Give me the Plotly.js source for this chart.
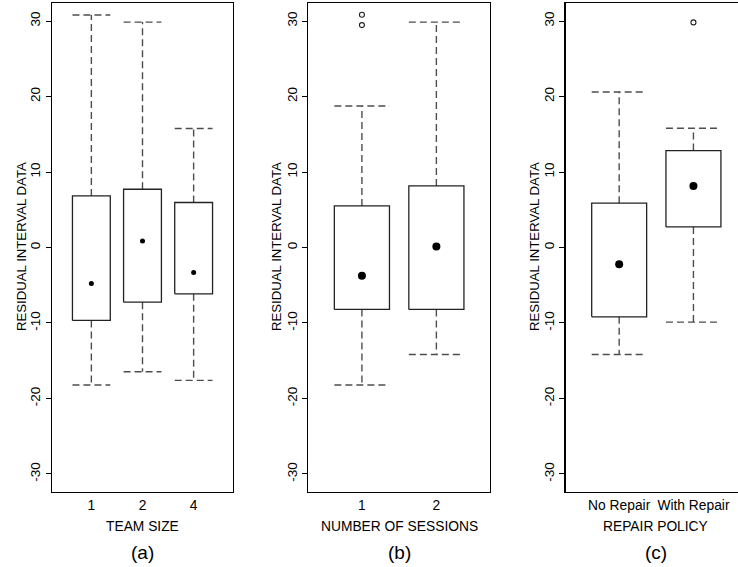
<!DOCTYPE html>
<html>
<head>
<meta charset="utf-8">
<script src="https://cdn.plot.ly/plotly-3.0.1.min.js"></script>
<style>
  html, body { margin: 0; padding: 0; background: #fff; }
  #chart { width: 738px; height: 567px; }
</style>
</head>
<body>
<div id="chart"></div>
<script>
// Residual interval data, summarised per factor level (box-and-whisker statistics)

// (a) Team size
const teamLabels = ['1', '2', '4'];
const teamQ1     = [-9.67, -7.24, -6.14];
const teamMedian = [-4.77, 0.87, -3.31];
const teamQ3     = [6.83, 7.72, 5.96];
const teamLow    = [-18.23, -16.47, -17.61];
const teamHigh   = [30.8, 29.87, 15.76];
const teamOutliers = [[], [], []];

// (b) Number of sessions
const sessionLabels = ['1', '2'];
const sessionQ1     = [-8.21, -8.21];
const sessionMedian = [-3.76, 0.13];
const sessionQ3     = [5.51, 8.16];
const sessionLow    = [-18.23, -14.17];
const sessionHigh   = [18.75, 29.87];
const sessionOutliers = [[29.47, 30.85], []];

// (c) Repair policy
const repairLabels = ['No Repair', 'With Repair'];
const repairQ1     = [-9.19, 2.73];
const repairMedian = [-2.21, 8.16];
const repairQ3     = [5.87, 12.84];
const repairLow    = [-14.17, -9.89];
const repairHigh   = [20.6, 15.81];
const repairOutliers = [[], [29.83]];

const yTicks = [-30, -20, -10, 0, 10, 20, 30];

// ---- page geometry (pixels) ----
const W = 738, H = 567;
const px = v => v / W;
const py = v => 1 - v / H;
const FONT = 'Liberation Sans, Arial, Helvetica, sans-serif';
const INK = '#000';
const HALF = 0.37;          // half box width, in category units

const panels = [
  { labels: teamLabels, q1: teamQ1, med: teamMedian, q3: teamQ3, lo: teamLow, hi: teamHigh,
    out: teamOutliers, dom: [52, 233], range: [0.23, 3.77], dot: 5,
    xTitle: 'TEAM SIZE', tag: '(a)', yTitleX: 21, mirrorY: true },
  { labels: sessionLabels, q1: sessionQ1, med: sessionMedian, q3: sessionQ3, lo: sessionLow, hi: sessionHigh,
    out: sessionOutliers, dom: [308.3, 490], range: [0.28, 2.72], dot: 8,
    xTitle: 'NUMBER OF SESSIONS', tag: '(b)', yTitleX: 276, mirrorY: true },
  { labels: repairLabels, q1: repairQ1, med: repairMedian, q3: repairQ3, lo: repairLow, hi: repairHigh,
    out: repairOutliers, dom: [565.7, 738], range: [0.28, 2.6], dot: 8,
    xTitle: 'REPAIR POLICY', tag: '(c)', yTitleX: 534, mirrorY: false }
];

const traces = [];
const layout = {
  width: W, height: H,
  margin: { l: 0, r: 0, t: 0, b: 0 },
  paper_bgcolor: '#fff', plot_bgcolor: '#fff',
  showlegend: false,
  font: { family: FONT, size: 13, color: INK },
  annotations: []
};

const yDomain = [py(492), py(3)];

panels.forEach((p, k) => {
  const n = k === 0 ? '' : String(k + 1);
  const xa = 'x' + n, ya = 'y' + n;
  const pos = p.labels.map((_, i) => i + 1);

  // box bodies
  const bx = [], by = [];
  // whiskers and caps
  const wx = [], wy = [];
  // outliers
  const ox = [], oy = [];
  pos.forEach((c, i) => {
    bx.push(c - HALF, c + HALF, c + HALF, c - HALF, c - HALF, null);
    by.push(p.q1[i], p.q1[i], p.q3[i], p.q3[i], p.q1[i], null);

    wx.push(c, c, null, c - HALF, c + HALF, null);
    wy.push(p.q3[i], p.hi[i], null, p.hi[i], p.hi[i], null);
    wx.push(c, c, null, c - HALF, c + HALF, null);
    wy.push(p.q1[i], p.lo[i], null, p.lo[i], p.lo[i], null);

    p.out[i].forEach(v => { ox.push(c); oy.push(v); });
  });

  traces.push({
    type: 'scatter', mode: 'lines', x: wx, y: wy, xaxis: xa, yaxis: ya,
    line: { color: '#4d4d4d', width: 1.4, dash: '7px,4px' }, hoverinfo: 'skip'
  });
  traces.push({
    type: 'scatter', mode: 'lines', x: bx, y: by, xaxis: xa, yaxis: ya,
    line: { color: '#222', width: 1.3 }, hoverinfo: 'skip'
  });
  traces.push({
    type: 'scatter', mode: 'markers', x: pos, y: p.med, xaxis: xa, yaxis: ya,
    marker: { color: '#000', size: p.dot, line: { width: 0 } }
  });
  if (ox.length) {
    traces.push({
      type: 'scatter', mode: 'markers', x: ox, y: oy, xaxis: xa, yaxis: ya,
      marker: { symbol: 'circle-open', color: '#222', size: 5, line: { width: 1.1, color: '#222' } }
    });
  }

  layout['xaxis' + n] = {
    domain: [px(p.dom[0]), px(p.dom[1])],
    anchor: ya,
    range: p.range,
    tickmode: 'array', tickvals: pos, ticktext: p.labels,
    ticks: '', showgrid: false, zeroline: false,
    showline: true, mirror: true, linecolor: '#000', linewidth: 1.3,
    tickfont: { family: FONT, size: 13.8, color: INK },
    fixedrange: true
  };
  layout['yaxis' + n] = {
    domain: yDomain,
    anchor: xa,
    range: [-32.4, 32.4],
    tickmode: 'array', tickvals: yTicks, ticktext: yTicks.map(String),
    ticks: 'outside', ticklen: 5, tickwidth: 1, tickcolor: '#000',
    tickangle: -90,
    showgrid: false, zeroline: false,
    showline: true, mirror: p.mirrorY, linecolor: '#000', linewidth: 1.3,
    tickfont: { family: FONT, size: 13.5, color: INK },
    fixedrange: true
  };

  const cx = (p.dom[0] + (k === 2 ? 745.7 : p.dom[1])) / 2;
  layout.annotations.push(
    { text: 'RESIDUAL INTERVAL DATA', xref: 'paper', yref: 'paper', x: px(p.yTitleX), y: py(247),
      textangle: -90, showarrow: false, xanchor: 'center', yanchor: 'middle',
      font: { family: FONT, size: 13.2, color: INK } },
    { text: p.xTitle, xref: 'paper', yref: 'paper', x: px(cx), y: py(526.7),
      showarrow: false, xanchor: 'center', yanchor: 'middle',
      font: { family: FONT, size: 13.8, color: INK } },
    { text: p.tag, xref: 'paper', yref: 'paper', x: px(cx), y: py(552),
      showarrow: false, xanchor: 'center', yanchor: 'middle',
      font: { family: FONT, size: 19, color: INK } }
  );
});

Plotly.newPlot('chart', traces, layout, { staticPlot: true, displayModeBar: false });
</script>
</body>
</html>
